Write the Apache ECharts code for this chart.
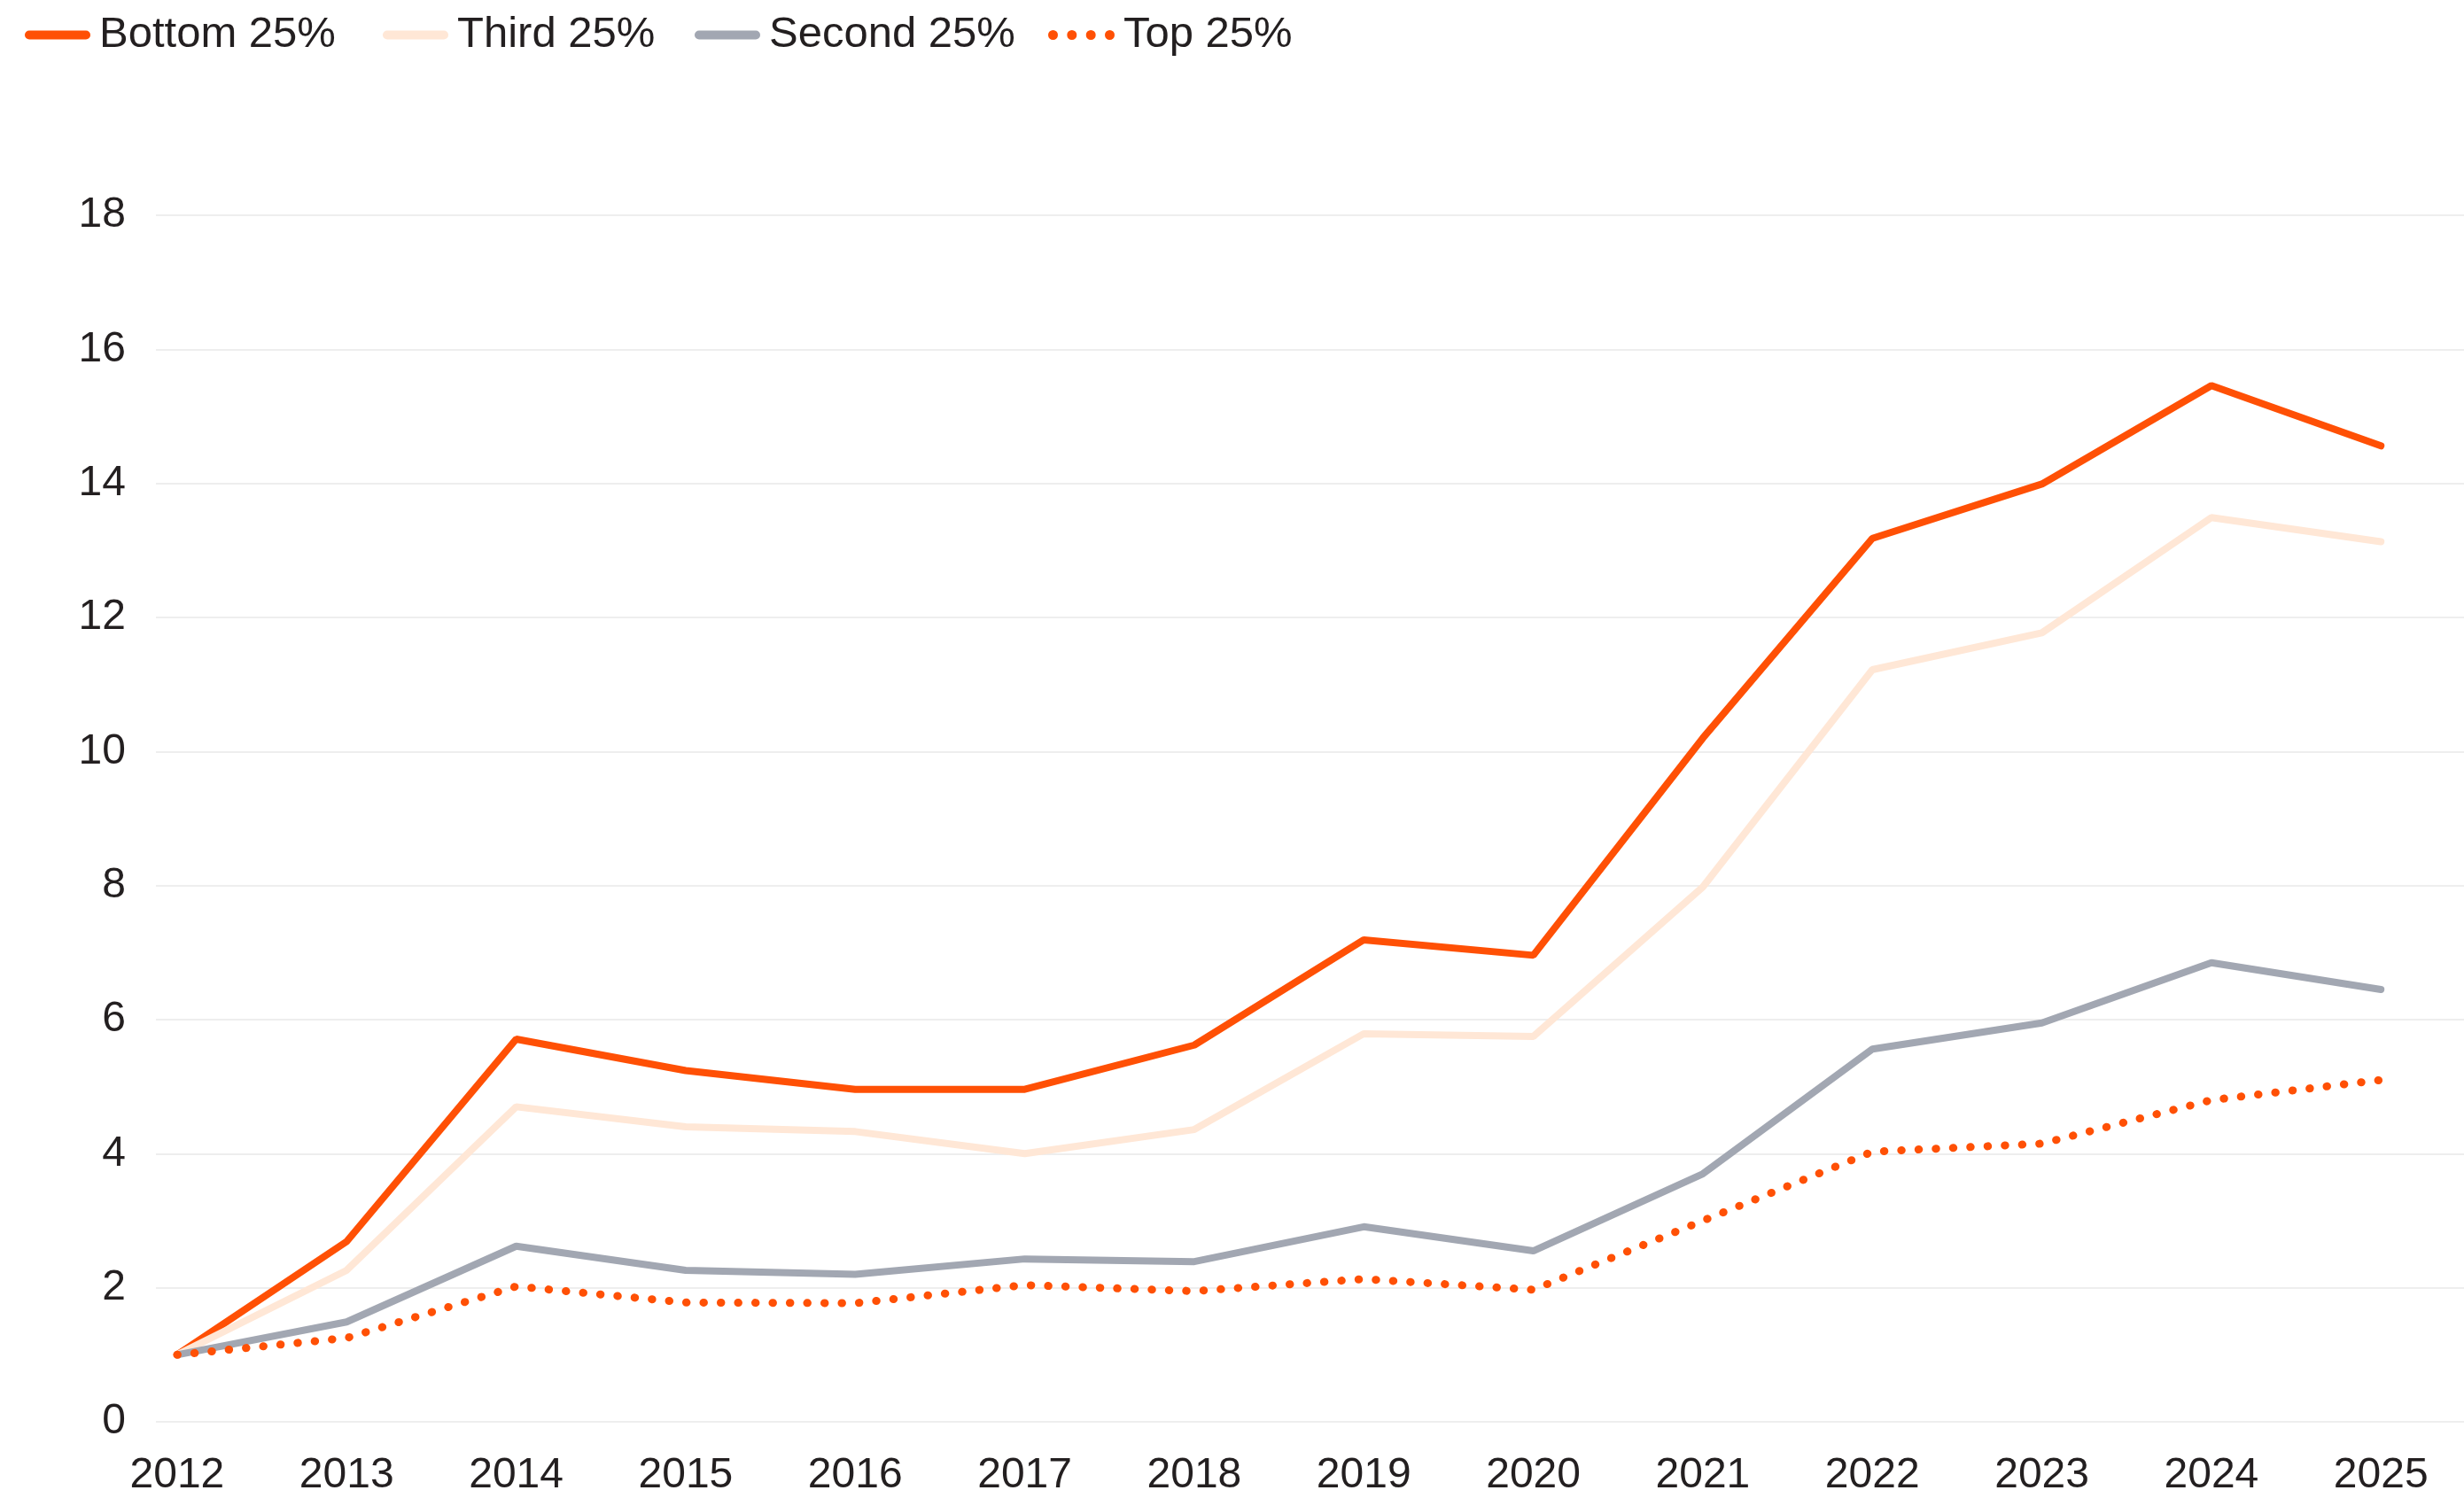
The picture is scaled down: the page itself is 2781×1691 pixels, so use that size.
<!DOCTYPE html>
<html>
<head>
<meta charset="utf-8">
<script src="https://cdn.jsdelivr.net/npm/echarts@6/dist/echarts.min.js"></script>
<style>
html,body{margin:0;padding:0;background:#fff;}
#chart{width:2781px;height:1691px;}
</style>
</head>
<body>
<div id="chart"></div>
<script>
const years = [2012, 2013, 2014, 2015, 2016, 2017, 2018, 2019, 2020, 2021, 2022, 2023, 2024, 2025];
const seriesNames = ['Bottom 25%', 'Third 25%', 'Second 25%', 'Top 25%'];
const bottom25 = [1.0, 2.69, 5.71, 5.24, 4.96, 4.96, 5.62, 7.19, 6.96, 10.2, 13.18, 13.99, 15.46, 14.56];
const third25 = [1.0, 2.26, 4.7, 4.4, 4.33, 4.0, 4.36, 5.79, 5.75, 7.98, 11.22, 11.77, 13.49, 13.13];
const second25 = [1.0, 1.49, 2.62, 2.26, 2.2, 2.43, 2.39, 2.91, 2.55, 3.7, 5.56, 5.95, 6.85, 6.45];
const top25 = [1.0, 1.25, 2.02, 1.78, 1.77, 2.04, 1.95, 2.13, 1.97, 3.0, 4.03, 4.15, 4.8, 5.1];
const yTicks = [0, 2, 4, 6, 8, 10, 12, 14, 16, 18];

const pairs = arr => years.map((y, i) => [y, arr[i]]);
const orange = '#FF5005';
const peach = '#FFE7D6';
const grey = '#A2A7B2';
const font = 'Liberation Sans, Arial, Helvetica, sans-serif';

// legend icon shapes
const capsule = 'path://M5,0 L69,0 A5,5 0 0,1 69,10 L5,10 A5,5 0 0,1 5,0 Z';
function dotsPath() {
  const r = 5.5, cxs = [5.5, 26.8, 48.2, 69.5];
  let p = '';
  cxs.forEach(cx => {
    p += 'M' + (cx - r) + ',' + r + ' A' + r + ',' + r + ' 0 1,0 ' + (cx + r) + ',' + r +
         ' A' + r + ',' + r + ' 0 1,0 ' + (cx - r) + ',' + r + ' Z ';
  });
  return 'path://' + p;
}
const legendLefts = [23, 427, 779, 1178];
const legendIcons = [capsule, capsule, capsule, dotsPath()];

const legends = seriesNames.map((n, i) => ({
  left: legendLefts[i],
  top: 10,
  itemWidth: i === 3 ? 75 : 74,
  itemHeight: i === 3 ? 11 : 10,
  icon: legendIcons[i],
  textStyle: {fontFamily: font, fontSize: 49, color: '#231f20', padding: [0, 0, 0, 5]},
  data: [{name: n, icon: legendIcons[i]}]
}));

const chart = echarts.init(document.getElementById('chart'), null, {renderer: 'canvas'});
chart.setOption({
  animation: false,
  backgroundColor: '#ffffff',
  legend: legends,
  grid: {left: 176, right: 0, top: 243, bottom: 86},
  xAxis: {
    type: 'value',
    min: 2011.875,
    max: 2025.49,
    axisLine: {show: false},
    axisTick: {show: false},
    splitLine: {show: false},
    axisLabel: {
      customValues: years,
      formatter: v => String(Math.round(v)),
      fontFamily: font, fontSize: 48, color: '#231f20', margin: 37
    }
  },
  yAxis: {
    type: 'value',
    min: yTicks[0],
    max: yTicks[yTicks.length - 1],
    interval: 2,
    axisLine: {show: false},
    axisTick: {show: false},
    splitLine: {lineStyle: {color: '#eeeeee', width: 2}},
    axisLabel: {fontFamily: font, fontSize: 48, color: '#231f20', margin: 34}
  },
  series: [
    {name: seriesNames[0], type: 'line', data: pairs(bottom25), symbol: 'none', color: orange,
     itemStyle: {color: orange}, lineStyle: {color: orange, width: 8, cap: 'round'}},
    {name: seriesNames[1], type: 'line', data: pairs(third25), symbol: 'none', color: peach,
     itemStyle: {color: peach}, lineStyle: {color: peach, width: 8, cap: 'round'}},
    {name: seriesNames[2], type: 'line', data: pairs(second25), symbol: 'none', color: grey,
     itemStyle: {color: grey}, lineStyle: {color: grey, width: 8, cap: 'round'}},
    {name: seriesNames[3], type: 'line', data: pairs(top25), symbol: 'none', color: orange,
     itemStyle: {color: orange}, lineStyle: {color: orange, width: 9, type: [0.5, 19], cap: 'round'}}
  ]
});
</script>
</body>
</html>
